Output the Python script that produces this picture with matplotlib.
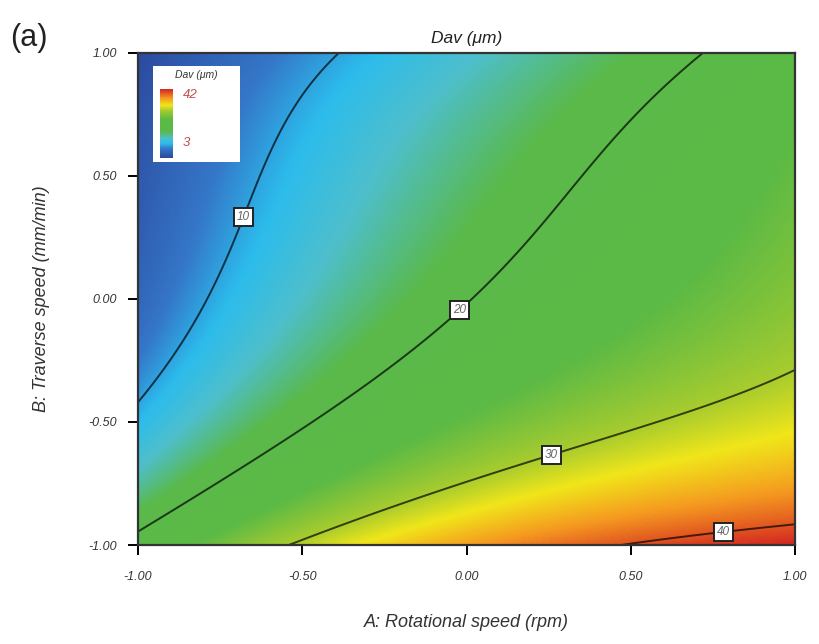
import numpy as np
import matplotlib
matplotlib.use("Agg")
import matplotlib.pyplot as plt
from matplotlib.colors import LinearSegmentedColormap

plt.rcParams['font.family'] = ['Liberation Sans', 'DejaVu Sans']

# points (coded factor levels A, B)
contour_A = [-0.385, -0.537, -0.62, -0.696, -0.78, -0.82, -0.924, -1.0,
             0.732, 0.549, 0.416, 0.285, 0.081, -0.029, -0.212, -0.516, -0.77, -1.0,
             -0.537, -0.315, 0.032, 0.254, 0.589, 0.842, 0.994,
             0.549, 0.778, 0.994]
contour_B = [1.0, 0.779, 0.523, 0.34, 0.007, -0.098, -0.30, -0.42,
             1.0, 0.779, 0.551, 0.373, 0.105, -0.033, -0.237, -0.545, -0.777, -0.93,
             -1.0, -0.886, -0.744, -0.614, -0.505, -0.399, -0.289,
             -1.0, -0.91, -0.927]
contour_level = [10] * 8 + [20] * 10 + [30] * 7 + [40] * 3
# corner responses
corner_A = [-1.0, 1.0, 1.0]
corner_B = [1.0, -1.0, 1.0]
corner_val = [3.0, 42.0, 23.0]

levels = [10, 20, 30, 40]
label_pos = [(-0.696, 0.34), (-0.029, -0.033), (0.254, -0.614), (0.778, -0.91)]
dav_min, dav_max = 3, 42


def terms(a, b):
    a = np.asarray(a, float)
    b = np.asarray(b, float)
    return np.stack([np.ones_like(a), a, b, a * b, a ** 2, b ** 2,
                     a ** 2 * b, a * b ** 2, a ** 3, b ** 3], axis=-1)


A_pts = np.r_[contour_A, corner_A]
B_pts = np.r_[contour_B, corner_B]
z_pts = np.r_[contour_level, corner_val]
coef, *_ = np.linalg.lstsq(terms(A_pts, B_pts), z_pts, rcond=None)

a = np.linspace(-1, 1, 400)
b = np.linspace(-1, 1, 400)
AA, BB = np.meshgrid(a, b)
Z = terms(AA, BB) @ coef

# Design-Expert style palette: blue -> cyan -> green -> yellow -> red
nodes = [3, 8, 11, 14, 18, 25, 30, 33, 37, 42]
node_cols = ['#2c4a9e', '#3576c8', '#2cbcec', '#4ebfcc', '#5ab94a',
             '#5cba45', '#a8cc2e', '#f0e61a', '#f59a20', '#d42a20']
pos = [(n - dav_min) / (dav_max - dav_min) for n in nodes]
cmap = LinearSegmentedColormap.from_list('dav', list(zip(pos, node_cols)))

fig = plt.figure(figsize=(8.19, 6.44), dpi=100)
ax = fig.add_axes([138 / 819, 1 - 545 / 644, 657 / 819, 492.5 / 644])

ax.imshow(Z, extent=[-1, 1, -1, 1], origin='lower', cmap=cmap,
          vmin=dav_min, vmax=dav_max, aspect='auto', interpolation='bilinear')

line_cols = [np.array(cmap((lv - dav_min) / (dav_max - dav_min))[:3]) * 0.3 for lv in levels]
cs = ax.contour(AA, BB, Z, levels=levels, colors=line_cols, linewidths=1.4)
labels = ax.clabel(cs, fmt='%d', manual=label_pos, inline=False, fontsize=8.5)
for t in labels:
    t.set_rotation(0)
    t.set_color('#666666')
    t.set_fontstyle('italic')
    t.set_zorder(5)
    t.set_bbox(dict(boxstyle='square,pad=0.25', facecolor='white', edgecolor='#222222', linewidth=1.4))

ax.set_xlim(-1, 1)
ax.set_ylim(-1, 1)
ticks = [-1.0, -0.5, 0.0, 0.5, 1.0]
tick_text = ['-1.00', '-0.50', '0.00', '0.50', '1.00']
ax.set_xticks(ticks)
ax.set_xticklabels(tick_text, fontstyle='italic', fontsize=9, color='#333333')
ax.set_yticks(ticks)
ax.set_yticklabels(tick_text, fontstyle='italic', fontsize=9, color='#333333')
ax.tick_params(axis='x', direction='out', length=7, width=1.4, pad=12)
ax.tick_params(axis='y', direction='out', length=7, width=1.4, pad=8)
for s in ax.spines.values():
    s.set_linewidth(1.6)
    s.set_color('#333333')

ax.set_xlabel('A: Rotational speed (rpm)', fontstyle='italic', fontsize=13,
              color='#333333', labelpad=22)
ax.set_ylabel('B: Traverse speed (mm/min)', fontstyle='italic', fontsize=13,
              color='#333333', labelpad=28)
ax.set_title('Dav (μm)', fontstyle='italic', fontsize=12.5, color='#222222', pad=7)
fig.text(10 / 819, 1 - 38 / 644, '(a)', fontsize=22, color='#222222', va='center')

# small legend box with the colour scale
box = ax.inset_axes([0.023, 0.778, 0.132, 0.195])
box.set_facecolor('white')
box.set_xticks([])
box.set_yticks([])
for s in box.spines.values():
    s.set_visible(False)
box.text(0.5, 0.9, 'Dav (μm)', fontstyle='italic', fontsize=7.5, ha='center',
         va='center', color='#333333', transform=box.transAxes)
bar = ax.inset_axes([0.034, 0.785, 0.019, 0.14])
bar.imshow(np.linspace(dav_min, dav_max, 100)[:, None], origin='lower',
           cmap=cmap, aspect='auto', extent=[0, 1, dav_min, dav_max])
bar.set_xticks([])
bar.set_yticks([])
for s in bar.spines.values():
    s.set_visible(False)
box.text(0.34, 0.7, str(dav_max), fontsize=9.5, color='#c0504d', va='center',
         fontstyle='italic', transform=box.transAxes)
box.text(0.34, 0.2, str(dav_min), fontsize=9.5, color='#c0504d', va='center',
         fontstyle='italic', transform=box.transAxes)

fig.savefig('out.png', dpi=100)
